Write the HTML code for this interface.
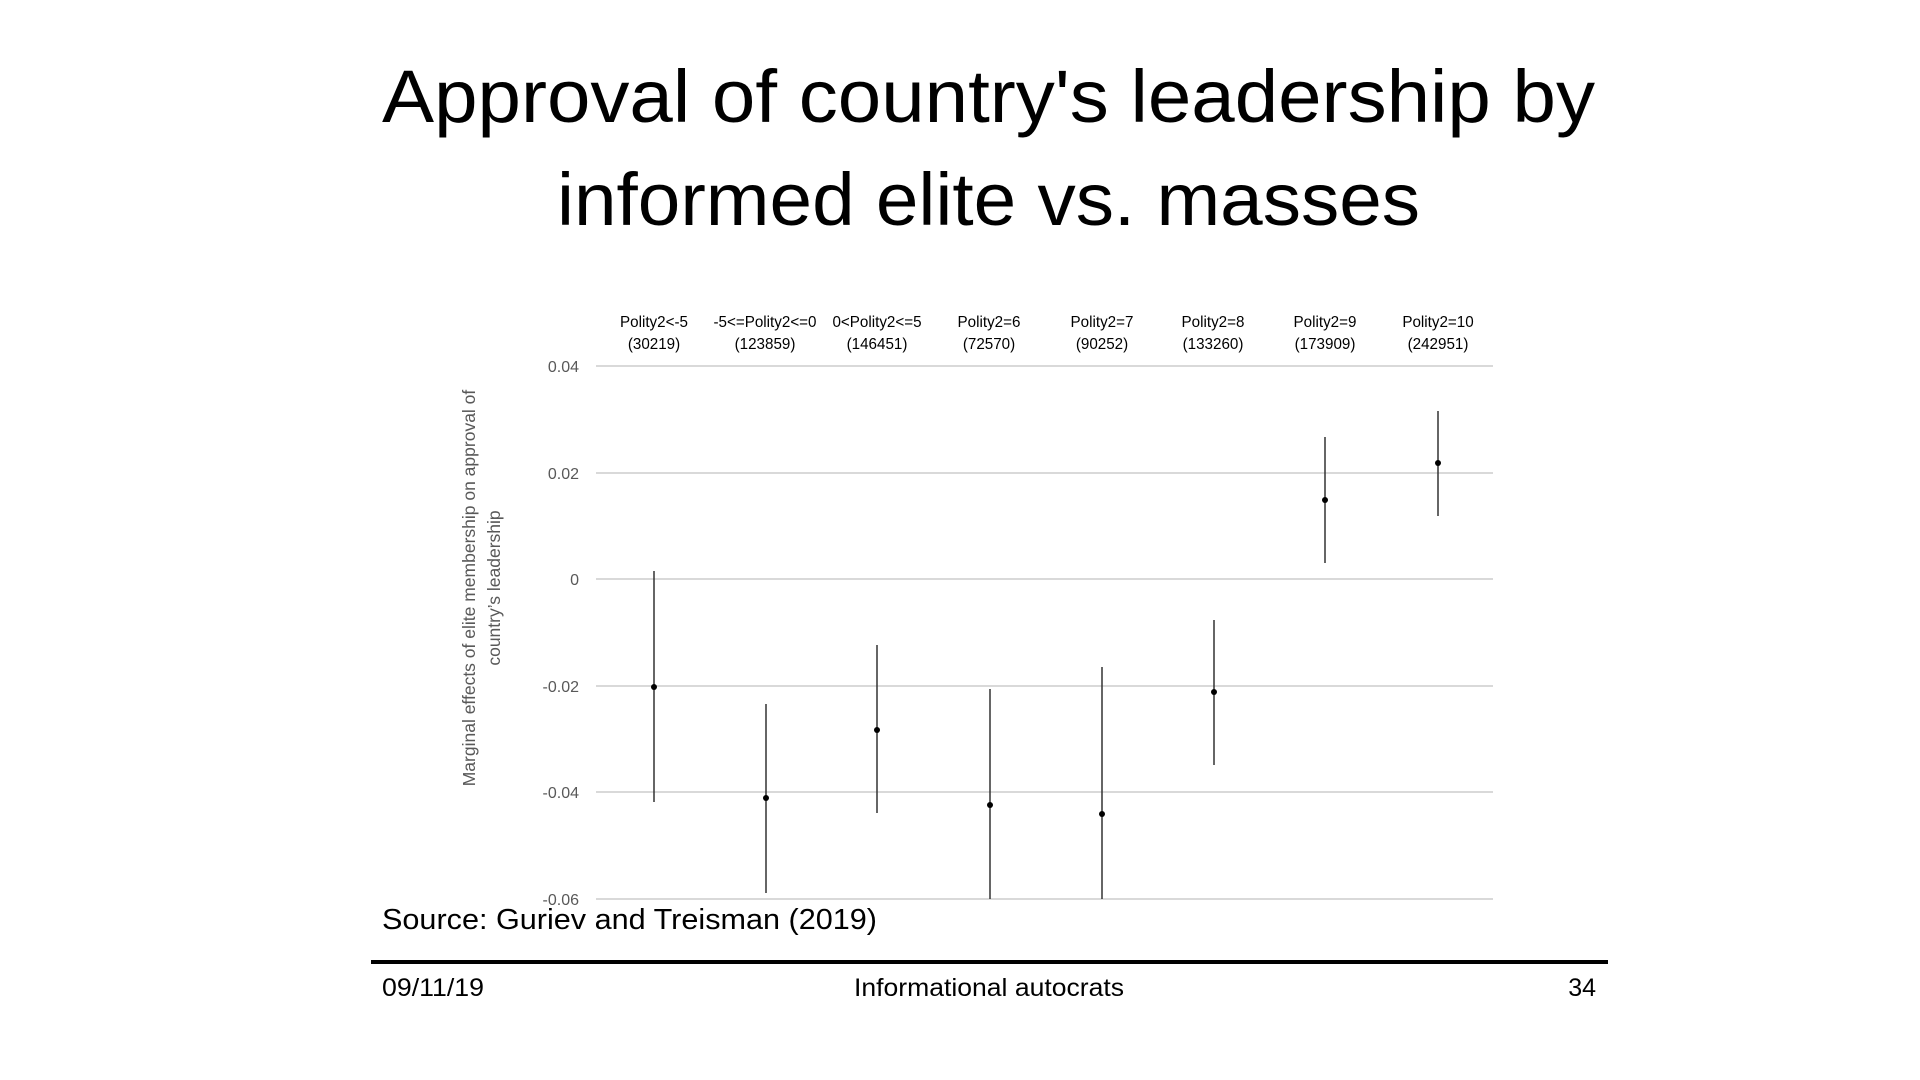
<!DOCTYPE html>
<html><head><meta charset="utf-8"><style>
html,body{margin:0;padding:0;background:#fff;}
svg{display:block;}
</style></head><body>
<svg width="1920" height="1080" viewBox="0 0 1920 1080" xmlns="http://www.w3.org/2000/svg">
<g font-family="Liberation Sans, DejaVu Sans, sans-serif" fill="#000">
<text x="382" y="122" font-size="74" textLength="1213" lengthAdjust="spacingAndGlyphs">Approval of country's leadership by</text>
<text x="557" y="225" font-size="74" textLength="863" lengthAdjust="spacingAndGlyphs">informed elite vs. masses</text>
</g>
<g stroke="#d9d9d9" stroke-width="2">
<line x1="596" x2="1493" y1="366" y2="366"/>
<line x1="596" x2="1493" y1="473" y2="473"/>
<line x1="596" x2="1493" y1="579" y2="579"/>
<line x1="596" x2="1493" y1="686" y2="686"/>
<line x1="596" x2="1493" y1="792" y2="792"/>
<line x1="596" x2="1493" y1="899" y2="899"/>
</g>
<g font-family="Liberation Sans, sans-serif" font-size="16" fill="#595959" text-anchor="end">
<text x="579" y="372">0.04</text>
<text x="579" y="479">0.02</text>
<text x="579" y="585">0</text>
<text x="579" y="692">-0.02</text>
<text x="579" y="798">-0.04</text>
<text x="579" y="905">-0.06</text>
</g>
<g font-family="Liberation Sans, sans-serif" font-size="17.5" fill="#595959" text-anchor="middle" transform="translate(481,588) rotate(-90)">
<text x="0" y="-6">Marginal effects of elite membership on approval of</text>
<text x="0" y="19">country’s leadership</text>
</g>
<g font-family="Liberation Sans, sans-serif" font-size="16" fill="#000" text-anchor="middle">
<g transform="translate(654,0) scale(0.95,1)"><text x="0" y="327">Polity2&lt;-5</text><text x="0" y="349">(30219)</text></g>
<g transform="translate(765,0) scale(0.95,1)"><text x="0" y="327">-5&lt;=Polity2&lt;=0</text><text x="0" y="349">(123859)</text></g>
<g transform="translate(877,0) scale(0.95,1)"><text x="0" y="327">0&lt;Polity2&lt;=5</text><text x="0" y="349">(146451)</text></g>
<g transform="translate(989,0) scale(0.95,1)"><text x="0" y="327">Polity2=6</text><text x="0" y="349">(72570)</text></g>
<g transform="translate(1102,0) scale(0.95,1)"><text x="0" y="327">Polity2=7</text><text x="0" y="349">(90252)</text></g>
<g transform="translate(1213,0) scale(0.95,1)"><text x="0" y="327">Polity2=8</text><text x="0" y="349">(133260)</text></g>
<g transform="translate(1325,0) scale(0.95,1)"><text x="0" y="327">Polity2=9</text><text x="0" y="349">(173909)</text></g>
<g transform="translate(1438,0) scale(0.95,1)"><text x="0" y="327">Polity2=10</text><text x="0" y="349">(242951)</text></g>
</g>
<g stroke="#333" stroke-width="1.5">
<line x1="654" x2="654" y1="571" y2="802"/>
<line x1="766" x2="766" y1="704" y2="893"/>
<line x1="877" x2="877" y1="645" y2="813"/>
<line x1="990" x2="990" y1="689" y2="899"/>
<line x1="1102" x2="1102" y1="667" y2="899"/>
<line x1="1214" x2="1214" y1="620" y2="765"/>
<line x1="1325" x2="1325" y1="437" y2="563"/>
<line x1="1438" x2="1438" y1="411" y2="516"/>
</g>
<g fill="#000">
<circle cx="654" cy="687" r="3"/>
<circle cx="766" cy="798" r="3"/>
<circle cx="877" cy="730" r="3"/>
<circle cx="990" cy="805" r="3"/>
<circle cx="1102" cy="814" r="3"/>
<circle cx="1214" cy="692" r="3"/>
<circle cx="1325" cy="500" r="3"/>
<circle cx="1438" cy="463" r="3"/>
</g>
<text x="382" y="929" font-family="Liberation Sans, sans-serif" font-size="29" fill="#000" textLength="495" lengthAdjust="spacingAndGlyphs">Source: Guriev and Treisman (2019)</text>
<rect x="371" y="960" width="1237" height="4" fill="#000"/>
<g font-family="Liberation Sans, sans-serif" font-size="25" fill="#000">
<text x="382" y="996" textLength="102" lengthAdjust="spacingAndGlyphs">09/11/19</text>
<text x="854" y="996" textLength="270" lengthAdjust="spacingAndGlyphs">Informational autocrats</text>
<text x="1596" y="996" text-anchor="end">34</text>
</g>
</svg>
</body></html>
